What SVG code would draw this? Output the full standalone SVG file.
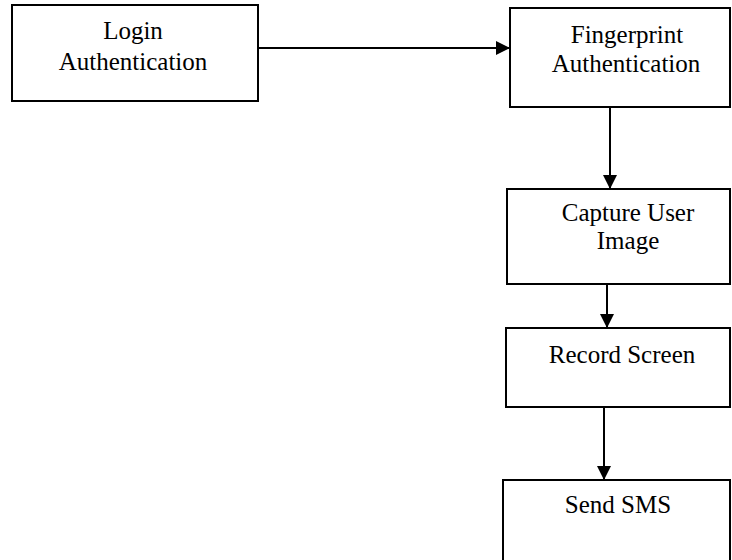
<svg xmlns="http://www.w3.org/2000/svg" width="732" height="560" viewBox="0 0 732 560">
<style>
.box{fill:#fff;stroke:#000;stroke-width:2}
.lbl{font-family:"Liberation Serif","Times New Roman",serif;font-size:25px;fill:#000;text-anchor:middle}
.conn{stroke:#000;stroke-width:2;fill:none}
</style>
<defs>
<marker id="ah" markerUnits="userSpaceOnUse" markerWidth="14" markerHeight="14" viewBox="0 0 14 14" refX="14" refY="7" orient="auto">
<path d="M0,0 L14,7 L0,14 Z" fill="#000"/>
</marker>
</defs>
<rect width="732" height="560" fill="#fff"/>
<g id="login">
<rect class="box" x="12" y="5" width="246" height="96"/>
<text class="lbl" x="133" y="39">Login</text>
<text class="lbl" x="133" y="70">Authentication</text>
</g>
<g id="fingerprint">
<rect class="box" x="510" y="8" width="220" height="99"/>
<text class="lbl" x="627" y="43">Fingerprint</text>
<text class="lbl" x="626" y="72">Authentication</text>
</g>
<g id="capture">
<rect class="box" x="507" y="189" width="223" height="95"/>
<text class="lbl" x="628" y="221">Capture User</text>
<text class="lbl" x="628" y="249">Image</text>
</g>
<g id="record">
<rect class="box" x="506" y="328" width="224" height="79"/>
<text class="lbl" x="622" y="363">Record Screen</text>
</g>
<g id="sms">
<rect class="box" x="503" y="480" width="227" height="100"/>
<text class="lbl" x="618" y="513">Send SMS</text>
</g>
<g id="connectors">
<line class="conn" x1="258" y1="48" x2="510" y2="48" marker-end="url(#ah)"/>
<line class="conn" x1="610" y1="107" x2="610" y2="189" marker-end="url(#ah)"/>
<line class="conn" x1="607" y1="284" x2="607" y2="328" marker-end="url(#ah)"/>
<line class="conn" x1="604" y1="407" x2="604" y2="480" marker-end="url(#ah)"/>
</g>
</svg>
